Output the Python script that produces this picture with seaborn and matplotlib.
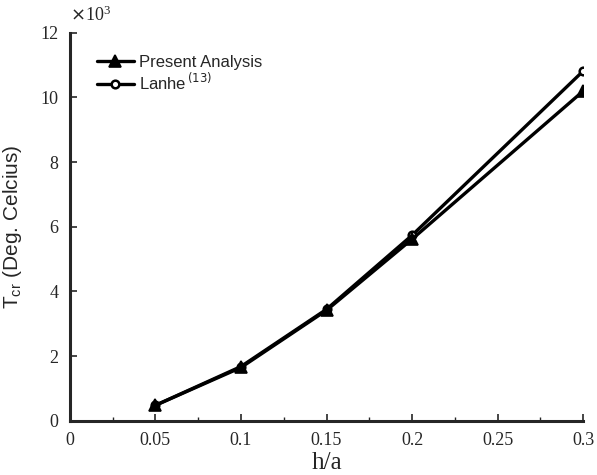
import matplotlib
matplotlib.use("Agg")
import matplotlib.pyplot as plt
import seaborn as sns
from matplotlib.ticker import MultipleLocator

h_a = [0.05, 0.1, 0.15, 0.2, 0.3]
present = [0.48, 1.65, 3.42, 5.62, 10.2]
lanhe = [0.48, 1.68, 3.45, 5.74, 10.82]

sns.set_style("ticks")
fig = plt.figure(figsize=(5.97, 4.75), dpi=100)
ax = fig.add_axes([0.117, 0.114, 0.86, 0.817])

sns.lineplot(x=h_a, y=present, color="black", linewidth=2.4, marker="^",
             markersize=9, markerfacecolor="black", markeredgecolor="black",
             markeredgewidth=1.2, label="Present Analysis", ax=ax, zorder=4)
sns.lineplot(x=h_a, y=lanhe, color="black", linewidth=2.4, marker="o",
             markersize=5.5, markerfacecolor="white", markeredgecolor="black",
             markeredgewidth=1.8, label="Lanhe$^{\\,(13)}$", ax=ax, zorder=3)

ax.set_xlim(0, 0.3)
ax.set_ylim(0, 12)
ax.set_xticks([0, 0.05, 0.1, 0.15, 0.2, 0.25, 0.3])
ax.set_xticklabels(["0", "0.05", "0.1", "0.15", "0.2", "0.25", "0.3"])
ax.xaxis.set_minor_locator(MultipleLocator(0.025))
ax.set_yticks([0, 2, 4, 6, 8, 10, 12])
ax.set_yticklabels(["0", "2", "4", "6", "8", "10", "12"])

for sp in ["top", "right"]:
    ax.spines[sp].set_visible(False)
for sp in ["left", "bottom"]:
    ax.spines[sp].set_linewidth(2.2)
ax.tick_params(direction="in", length=5, width=1.2, labelsize=13, pad=8)
ax.tick_params(which="minor", direction="in", length=3, width=1)
for lbl in ax.get_xticklabels() + ax.get_yticklabels():
    lbl.set_family("Liberation Serif")

ax.set_xlabel("h/a", fontsize=18, family="Liberation Serif", labelpad=2)
ax.set_ylabel("T$_{\\mathregular{cr}}$ (Deg. Celcius)", fontsize=15, family="Liberation Sans", labelpad=12)
ax.text(0.0, 1.02, r"$\times\mathregular{10^3}$", transform=ax.transAxes, fontsize=13,
        family="Liberation Serif", ha="left", va="bottom")

leg = ax.legend(loc="upper left", bbox_to_anchor=(0.04, 0.96), frameon=False,
                prop={"family": "Liberation Sans", "size": 12}, handlelength=2.2,
                handletextpad=0.3, labelspacing=0.1, borderaxespad=0)

fig.savefig("out.png", dpi=100)
